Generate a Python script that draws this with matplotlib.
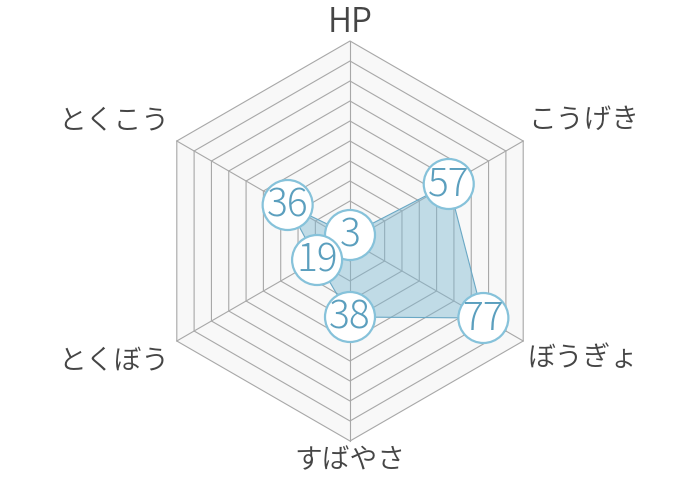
import numpy as np
import matplotlib.pyplot as plt
from matplotlib.patches import Polygon, Circle

plt.rcParams['font.family'] = ['Noto Sans CJK JP', 'DejaVu Sans']

# stats (0-100 scale)
labels = ["HP", "こうげき", "ぼうぎょ", "すばやさ", "とくぼう", "とくこう"]
values = [3, 57, 77, 38, 19, 36]
rmax = 100
nrings = 10

grid_col = "#a8a8a8"
bg_col = "#f8f8f8"
fill_col = "#7db8d2"
edge_col = "#6aa8c5"
ring_col = "#86c2da"
num_col = "#5b9fbe"
txt_col = "#454545"

n = len(labels)
ang = np.pi / 2 - np.arange(n) * 2 * np.pi / n

fig = plt.figure(figsize=(7, 4.8), dpi=100)
ax = fig.add_axes([0, 0, 1, 1])
ax.set_xlim(-175, 175)
ax.set_ylim(-119.5, 120.5)
ax.set_aspect('equal')
ax.axis('off')

# background hexagon
outer = np.column_stack([rmax * np.cos(ang), rmax * np.sin(ang)])
ax.add_patch(Polygon(outer, closed=True, facecolor=bg_col, edgecolor='none', zorder=1))

# rings
for k in range(1, nrings + 1):
    r = rmax * k / nrings
    pts = np.column_stack([r * np.cos(ang), r * np.sin(ang)])
    ax.add_patch(Polygon(pts, closed=True, fill=False, edgecolor=grid_col, lw=0.8, zorder=2))
# spokes
for a in ang:
    ax.plot([0, rmax * np.cos(a)], [0, rmax * np.sin(a)], color=grid_col, lw=0.8, zorder=2)

# data polygon
v = np.array(values, dtype=float)
px = v * np.cos(ang)
py = v * np.sin(ang)
ax.add_patch(Polygon(np.column_stack([px, py]), closed=True, facecolor=fill_col,
                     alpha=0.45, edgecolor='none', zorder=3))
ax.add_patch(Polygon(np.column_stack([px, py]), closed=True, fill=False,
                     edgecolor=edge_col, lw=0.8, zorder=3))

# value badges
for x, y, val in zip(px, py, values):
    ax.add_patch(Circle((x, y), 12.5, facecolor='white', edgecolor=ring_col, lw=1.6, zorder=4))
    ax.text(x, y - 0.5, str(val), ha='center', va='center', fontsize=28,
            fontweight='light', color=num_col, zorder=5)

# axis labels
lab_pos = [(0, 109, 'center'), (89, 60.5, 'left'), (89, -58.5, 'left'),
           (0, -109.5, 'center'), (-90.5, -60, 'right'), (-90.5, 60.5, 'right')]
for (x, y, ha), t in zip(lab_pos, labels):
    fs = 24 if t == "HP" else 20
    ax.text(x, y, t, ha=ha, va='center', fontsize=fs, fontweight=350, color=txt_col)

fig.savefig("out.png", dpi=100)
